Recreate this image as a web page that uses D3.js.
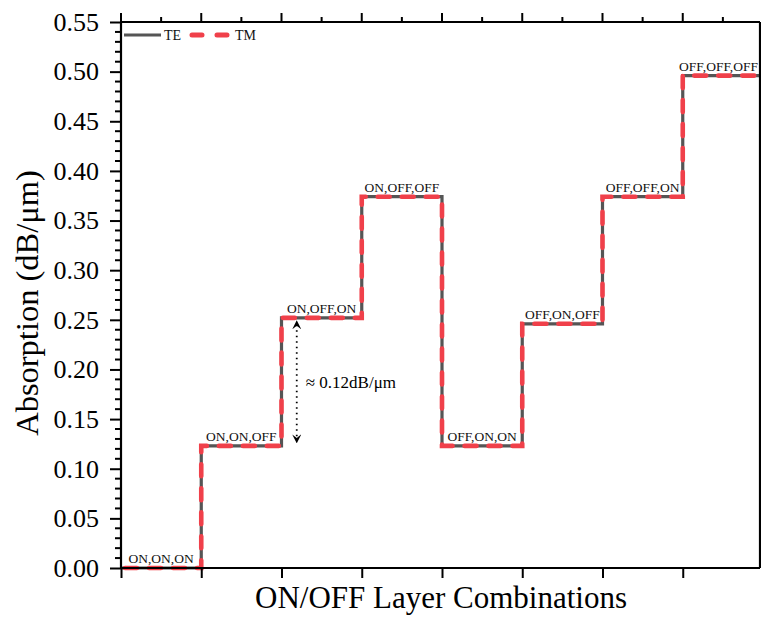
<!DOCTYPE html>
<html>
<head>
<meta charset="utf-8">
<script src="https://cdn.jsdelivr.net/npm/d3@7"></script>
<style>
  html, body { margin: 0; padding: 0; background: #fff; }
</style>
</head>
<body>
<svg id="chart" width="761" height="619"></svg>
<script>
// Layer states for each combination step (left to right)
const combos = ["ON,ON,ON", "ON,ON,OFF", "ON,OFF,ON", "ON,OFF,OFF",
                "OFF,ON,ON", "OFF,ON,OFF", "OFF,OFF,ON", "OFF,OFF,OFF"];
// Absorption (dB/µm) per combination
const teValues = [0.000, 0.123, 0.252, 0.374, 0.123, 0.246, 0.374, 0.496];
const tmValues = [0.000, 0.123, 0.252, 0.374, 0.123, 0.246, 0.374, 0.496];
const yTicks = [0, 0.05, 0.10, 0.15, 0.20, 0.25, 0.30, 0.35, 0.40, 0.45, 0.50, 0.55];
const xTicks = [0, 1, 2, 3, 4, 5, 6, 7];
// Annotated difference between two neighbouring steps
const deltaFrom = 0.123, deltaTo = 0.252, deltaX = 2.19;
const deltaLabel = "\u2248 0.12dB/\u03BCm";

const FONT = "'Liberation Serif', 'Times New Roman', Times, serif";
const svg = d3.select("#chart");
const pLeft = 121, pRight = 760, pTop = 22, pBottom = 568;

const x = d3.scaleLinear().domain([0, 8]).range([pLeft, 763]);
const y = d3.scaleLinear().domain([0, 0.55]).range([pBottom, pTop]);

// Step series: each value held across its unit interval
function stepPoints(vals) {
  const pts = [];
  vals.forEach((v, i) => { pts.push([i, v]); pts.push([i + 1, v]); });
  return pts;
}
const line = d3.line().x(d => x(d[0])).y(d => y(d[1]));

const defs = svg.append("defs");
defs.append("clipPath").attr("id", "clip")
  .append("rect").attr("x", pLeft).attr("y", pTop)
  .attr("width", pRight - pLeft).attr("height", pBottom - pTop + 3);

const plot = svg.append("g").attr("clip-path", "url(#clip)");

plot.append("path").datum(stepPoints(teValues))
  .attr("d", line).attr("fill", "none")
  .attr("stroke", "#555555").attr("stroke-width", 3.2);

plot.append("path").datum(stepPoints(tmValues))
  .attr("d", line).attr("fill", "none")
  .attr("stroke", "#f0404a").attr("stroke-width", 4.6)
  .attr("stroke-dasharray", "12,12").attr("stroke-dashoffset", -4)
  .attr("stroke-linecap", "round");

// Combination labels above each step, kept inside the frame
svg.append("g").selectAll("text").data(combos).join("text")
  .attr("x", (d, i) => x(i + 0.5))
  .attr("y", (d, i) => y(teValues[i]) - 5)
  .attr("text-anchor", "middle")
  .style("font-family", FONT).style("font-size", "13.5px")
  .attr("fill", "#111")
  .text(d => d)
  .each(function (d, i) {
    const w = this.getComputedTextLength();
    const cx = Math.min(x(i + 0.5), pRight - 2 - w / 2);
    d3.select(this).attr("x", cx);
  });

// Frame: top and right edges
svg.append("line").attr("x1", pLeft).attr("x2", pRight).attr("y1", pTop).attr("y2", pTop)
  .attr("stroke", "#000").attr("stroke-width", 2.2);
svg.append("line").attr("x1", pRight).attr("x2", pRight).attr("y1", pTop).attr("y2", pBottom)
  .attr("stroke", "#000").attr("stroke-width", 2.2);

// Top axis ticks (major + minor, outward)
const topTicks = d3.range(0, 8, 0.5);
svg.append("g").selectAll("line").data(topTicks).join("line")
  .attr("x1", d => x(d)).attr("x2", d => x(d))
  .attr("y1", pTop).attr("y2", d => Number.isInteger(d) ? pTop - 9 : pTop - 5)
  .attr("stroke", "#000").attr("stroke-width", 2);

// Left axis
const yAxis = d3.axisLeft(y).tickValues(yTicks).tickFormat(d3.format(".2f"))
  .tickSize(11).tickPadding(11);
const gy = svg.append("g").attr("transform", `translate(${pLeft},0)`).call(yAxis);
gy.select(".domain").attr("stroke-width", 2.2).attr("d", `M0,${pTop}V${pBottom}`);
gy.selectAll(".tick line").attr("stroke-width", 2);
gy.selectAll(".tick text").attr("fill", "#000")
  .style("font-family", FONT).style("font-size", "26px");
// Minor y ticks
const minorY = d3.range(0, 0.55, 0.01).filter(v => Math.abs(v / 0.05 - Math.round(v / 0.05)) > 1e-6);
svg.append("g").selectAll("line").data(minorY).join("line")
  .attr("x1", pLeft - 6).attr("x2", pLeft)
  .attr("y1", d => y(d)).attr("y2", d => y(d))
  .attr("stroke", "#000").attr("stroke-width", 2);

// Bottom axis
const xAxis = d3.axisBottom(x).tickValues(xTicks).tickFormat("").tickSize(10);
const gx = svg.append("g").attr("transform", `translate(0,${pBottom})`).call(xAxis);
gx.select(".domain").attr("stroke-width", 2.2).attr("d", `M${pLeft},0H${pRight}`);
gx.selectAll(".tick line").attr("stroke-width", 2);

// Axis titles
svg.append("text").attr("x", 441).attr("y", 608).attr("text-anchor", "middle")
  .style("font-family", FONT).style("font-size", "31px")
  .attr("fill", "#000").text("ON/OFF Layer Combinations");
svg.append("text").attr("transform", "translate(38,303) rotate(-90)")
  .attr("text-anchor", "middle")
  .style("font-family", FONT).style("font-size", "32.5px")
  .attr("fill", "#000")
  .text("Absorption (dB/\u03BCm)");

// Difference annotation: dotted double arrow
const ax = x(deltaX);
defs.append("marker").attr("id", "arrowhead")
  .attr("viewBox", "0 0 10 10").attr("refX", 5).attr("refY", 5)
  .attr("markerWidth", 5).attr("markerHeight", 5)
  .attr("markerUnits", "strokeWidth")
  .attr("orient", "auto-start-reverse")
  .append("path").attr("d", "M0,0 L10,5 L0,10 L4,5 Z").attr("fill", "#000");
svg.append("line")
  .attr("x1", ax).attr("x2", ax)
  .attr("y1", y(deltaTo) + 7).attr("y2", y(deltaFrom) - 7)
  .attr("stroke", "#000").attr("stroke-width", 1.8)
  .attr("stroke-dasharray", "1.5,4")
  .attr("marker-start", "url(#arrowhead)").attr("marker-end", "url(#arrowhead)");
svg.append("text").attr("x", ax + 9).attr("y", y((deltaFrom + deltaTo) / 2) + 6)
  .style("font-family", FONT).style("font-size", "17px")
  .attr("fill", "#000").text(deltaLabel);

// Legend
const lg = svg.append("g");
lg.append("line").attr("x1", 124).attr("x2", 161).attr("y1", 35).attr("y2", 35)
  .attr("stroke", "#555555").attr("stroke-width", 3);
lg.append("text").attr("x", 164).attr("y", 40)
  .style("font-family", FONT).style("font-size", "14px")
  .attr("fill", "#111").text("TE");
lg.append("line").attr("x1", 192).attr("x2", 230).attr("y1", 35).attr("y2", 35)
  .attr("stroke", "#f0404a").attr("stroke-width", 5)
  .attr("stroke-dasharray", "10,15").attr("stroke-linecap", "round");
lg.append("text").attr("x", 235).attr("y", 40)
  .style("font-family", FONT).style("font-size", "14px")
  .attr("fill", "#111").text("TM");
</script>
</body>
</html>
